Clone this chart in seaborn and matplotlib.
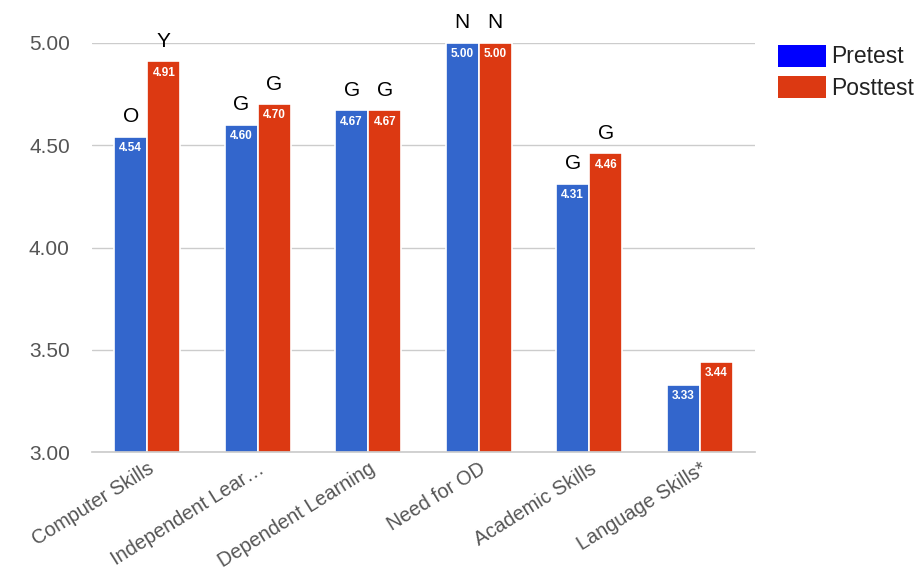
import matplotlib
matplotlib.use("Agg")
import matplotlib.pyplot as plt
from matplotlib.patches import Patch
import seaborn as sns
import pandas as pd

categories = ["Computer Skills", "Independent Lear…", "Dependent Learning",
              "Need for OD", "Academic Skills", "Language Skills*"]
pretest = [4.54, 4.60, 4.67, 5.00, 4.31, 3.33]
posttest = [4.91, 4.70, 4.67, 5.00, 4.46, 3.44]
pre_marks = ["O", "G", "G", "N", "G", ""]
post_marks = ["Y", "G", "G", "N", "G", ""]
series = ["Pretest", "Posttest"]
yticks = [3.00, 3.50, 4.00, 4.50, 5.00]

df = pd.DataFrame({
    "category": categories * 2,
    "value": pretest + posttest,
    "series": [series[0]] * len(categories) + [series[1]] * len(categories),
})

sns.set_theme(style="white")
plt.rcParams['font.family'] = ['Liberation Sans', 'DejaVu Sans']

fig = plt.figure(figsize=(9.17, 5.73), dpi=100)
ax = fig.add_axes([92/917, 121/573, 663/917, 409/573])

bar_colors = ["#3366CC", "#DC3912"]
sns.barplot(data=df, x="category", y="value", hue="series", hue_order=series,
            order=categories, palette=bar_colors, width=0.6, ax=ax,
            edgecolor="white", linewidth=1.2, legend=False, saturation=1)

ax.set_ylim(3.0, 5.0)
ax.set_yticks(yticks)
ax.set_yticklabels([f"{t:.2f}" for t in yticks], fontsize=15, color="#555555")
ax.yaxis.grid(True, color="#CCCCCC", linewidth=1)
ax.set_axisbelow(True)
ax.tick_params(axis="y", length=0, pad=16)
ax.tick_params(axis="x", length=0, pad=5)
for s in ["top", "right", "left"]:
    ax.spines[s].set_visible(False)
ax.spines["bottom"].set_color("#CCCCCC")
ax.set_xlabel("")
ax.set_ylabel("")
plt.setp(ax.get_xticklabels(), rotation=32, ha="right", rotation_mode="anchor",
         fontsize=14.3, color="#555555")

for cont, vals, marks in zip(ax.containers, [pretest, posttest], [pre_marks, post_marks]):
    for bar, v, m in zip(cont, vals, marks):
        cx = bar.get_x() + bar.get_width() / 2
        top = bar.get_height() + bar.get_y()
        ax.annotate(f"{v:.2f}", (cx, top), xytext=(0, -8), textcoords="offset points",
                    ha="center", va="center", color="white", fontsize=8.5,
                    fontweight="bold")
        if m:
            ax.annotate(m, (cx, top), xytext=(0, 14.5), textcoords="offset points",
                        ha="center", va="center", color="black", fontsize=15,
                        annotation_clip=False)

handles = [Patch(facecolor="#0000FF", edgecolor="none"),
           Patch(facecolor="#DC3912", edgecolor="none")]
fig.legend(handles, series, loc="upper left", bbox_to_anchor=(757/917, 1 - 24/573),
           frameon=False, fontsize=16.5, handlelength=2.1, handleheight=1.1,
           handletextpad=0.25, labelspacing=0.35, labelcolor="#222222")

fig.savefig("out.png", dpi=100)
